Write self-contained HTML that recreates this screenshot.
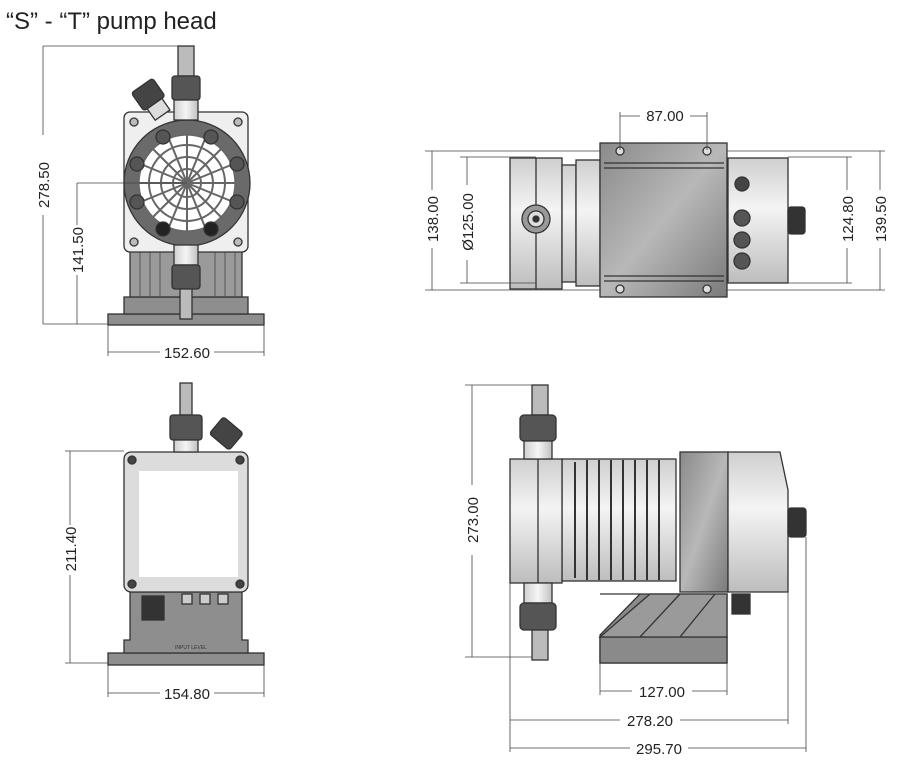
<!DOCTYPE html>
<html><head><meta charset="utf-8"><style>
html,body{margin:0;padding:0;background:#fff;}
svg{display:block;font-family:"Liberation Sans",sans-serif;}
.d{stroke:#444;stroke-width:0.8;fill:none}
.t{font-size:15px;fill:#222}
.o{stroke:#333;stroke-width:1.3}
</style></head><body>
<svg width="901" height="770" viewBox="0 0 901 770" xmlns="http://www.w3.org/2000/svg">
<defs>
<linearGradient id="gv" x1="0" y1="0" x2="0" y2="1"><stop offset="0" stop-color="#cfcfcf"/><stop offset="0.4" stop-color="#f4f4f4"/><stop offset="1" stop-color="#bdbdbd"/></linearGradient>
<linearGradient id="gh" x1="0" y1="0" x2="1" y2="0"><stop offset="0" stop-color="#d0d0d0"/><stop offset="0.5" stop-color="#f5f5f5"/><stop offset="1" stop-color="#c0c0c0"/></linearGradient>
<linearGradient id="gd" x1="0" y1="0" x2="1" y2="1"><stop offset="0" stop-color="#8a8a8a"/><stop offset="0.5" stop-color="#b8b8b8"/><stop offset="1" stop-color="#7a7a7a"/></linearGradient>
</defs>
<text x="6" y="29" style="font-size:24px;fill:#222">“S” - “T” pump head</text>

<!-- ===== View 1 (front) ===== -->
<g class="o">
<rect x="108" y="314" width="156" height="11" fill="#8e8e8e"/>
<rect x="124" y="297" width="124" height="17" fill="#8e8e8e"/>
<rect x="130" y="250" width="112" height="47" fill="#9a9a9a"/>
<g stroke="#555" stroke-width="1"><line x1="140" y1="252" x2="140" y2="297"/><line x1="150" y1="252" x2="150" y2="297"/><line x1="160" y1="252" x2="160" y2="297"/><line x1="215" y1="252" x2="215" y2="297"/><line x1="225" y1="252" x2="225" y2="297"/><line x1="235" y1="252" x2="235" y2="297"/></g>
<rect x="124" y="112" width="124" height="140" rx="6" fill="#efefef"/>
<circle cx="134" cy="122" r="4" fill="#bbb"/><circle cx="238" cy="122" r="4" fill="#bbb"/><circle cx="134" cy="242" r="4" fill="#bbb"/><circle cx="238" cy="242" r="4" fill="#bbb"/>
<circle cx="187" cy="183" r="63" fill="#6a6a6a"/>
<circle cx="187" cy="183" r="48" fill="#fff" stroke="#666"/>
<g stroke="#666" stroke-width="2" fill="none">
<circle cx="187" cy="183" r="38"/><circle cx="187" cy="183" r="26"/><circle cx="187" cy="183" r="14"/>
<path d="M187 135V231M139 183H235M153 149L221 217M221 149L153 217M169 139L205 227M205 139L169 227M143 165L231 201M231 165L143 201"/>
</g>
<g fill="#555"><circle cx="163" cy="137" r="7"/><circle cx="211" cy="137" r="7"/><circle cx="137" cy="164" r="7"/><circle cx="237" cy="164" r="7"/><circle cx="137" cy="202" r="7"/><circle cx="237" cy="202" r="7"/><circle cx="163" cy="229" r="7" fill="#222"/><circle cx="211" cy="229" r="7" fill="#222"/></g>
<rect x="178" y="46" width="16" height="30" fill="#bbb"/>
<rect x="172" y="76" width="28" height="24" rx="3" fill="#555"/>
<rect x="174" y="100" width="24" height="20" fill="url(#gh)"/>
<rect x="174" y="245" width="24" height="20" fill="url(#gh)"/>
<rect x="172" y="265" width="28" height="24" rx="3" fill="#555"/>
<rect x="180" y="289" width="12" height="30" fill="#bbb"/>
<g transform="rotate(-35 148 96)"><rect x="136" y="84" width="26" height="22" rx="3" fill="#444"/><rect x="140" y="106" width="18" height="14" fill="#ddd"/></g>
</g>

<!-- ===== View 2 (top) ===== -->
<g class="o">
<rect x="510" y="158" width="52" height="131" fill="url(#gv)"/>
<line x1="536" y1="158" x2="536" y2="289"/>
<circle cx="536" cy="219" r="14" fill="#999"/><circle cx="536" cy="219" r="8" fill="#ddd"/><circle cx="536" cy="219" r="3" fill="#333"/>
<rect x="562" y="165" width="14" height="117" fill="url(#gv)"/>
<rect x="576" y="160" width="24" height="126" fill="url(#gv)"/>
<rect x="600" y="143" width="127" height="154" fill="url(#gd)"/>
<line x1="604" y1="163" x2="724" y2="163"/><line x1="604" y1="168" x2="724" y2="168"/><line x1="604" y1="276" x2="724" y2="276"/><line x1="604" y1="281" x2="724" y2="281"/>
<g fill="#ddd"><circle cx="620" cy="151" r="4"/><circle cx="707" cy="151" r="4"/><circle cx="620" cy="289" r="4"/><circle cx="707" cy="289" r="4"/></g>
<rect x="728" y="158" width="60" height="125" fill="url(#gv)"/>
<circle cx="742" cy="184" r="7" fill="#444"/>
<circle cx="742" cy="218" r="8" fill="#555"/><circle cx="742" cy="240" r="8" fill="#555"/><circle cx="742" cy="261" r="8" fill="#555"/>
<rect x="788" y="207" width="17" height="27" rx="3" fill="#333"/>
</g>

<!-- ===== View 3 (back) ===== -->
<g class="o">
<rect x="108" y="653" width="156" height="12" fill="#8e8e8e"/>
<path d="M130 592H242V640H248V653H124V640H130Z" fill="#8e8e8e"/>
<rect x="142" y="596" width="22" height="24" fill="#333"/>
<rect x="182" y="594" width="10" height="10" fill="#ccc"/><rect x="200" y="594" width="10" height="10" fill="#ccc"/><rect x="218" y="594" width="10" height="10" fill="#ccc"/>
<text x="175" y="649" style="font-size:5px;fill:#333" stroke="none">INPUT LEVEL</text>
<rect x="124" y="452" width="124" height="140" rx="7" fill="#dcdcdc"/>
<rect x="139" y="471" width="99" height="106" fill="#fff" stroke="none"/>
<g fill="#444"><circle cx="132" cy="460" r="4"/><circle cx="240" cy="460" r="4"/><circle cx="132" cy="584" r="4"/><circle cx="240" cy="584" r="4"/></g>
<rect x="180" y="383" width="12" height="32" fill="#bbb"/>
<rect x="170" y="415" width="32" height="25" rx="3" fill="#555"/>
<rect x="174" y="440" width="24" height="12" fill="url(#gh)"/>
<g transform="rotate(40 225 435)"><rect x="212" y="422" width="26" height="22" rx="3" fill="#444"/></g>
</g>

<!-- ===== View 4 (side) ===== -->
<g class="o">
<path d="M600 594L650 594L727 594V663H600V635L640 594Z" fill="#8a8a8a"/>
<rect x="600" y="637" width="127" height="26" fill="#8a8a8a"/>
<path d="M600 637L650 594H727V637Z" fill="#9a9a9a"/>
<line x1="640" y1="637" x2="680" y2="594"/><line x1="680" y1="637" x2="715" y2="594"/>
<rect x="732" y="594" width="18" height="20" fill="#333"/>
<rect x="562" y="459" width="114" height="122" fill="url(#gv)"/>
<g stroke="#333" stroke-width="2"><line x1="575" y1="462" x2="575" y2="578"/><line x1="587" y1="460" x2="587" y2="580"/><line x1="599" y1="460" x2="599" y2="580"/><line x1="611" y1="460" x2="611" y2="580"/><line x1="623" y1="460" x2="623" y2="580"/><line x1="635" y1="460" x2="635" y2="580"/><line x1="647" y1="460" x2="647" y2="580"/><line x1="659" y1="460" x2="659" y2="580"/></g>
<rect x="510" y="459" width="52" height="124" fill="url(#gv)"/>
<line x1="538" y1="459" x2="538" y2="583"/>
<rect x="680" y="452" width="48" height="140" fill="url(#gd)"/>
<path d="M728 452H780L788 490V592H728Z" fill="url(#gv)"/>
<rect x="788" y="508" width="18" height="29" rx="3" fill="#333"/>
<rect x="532" y="385" width="16" height="30" fill="#bbb"/>
<rect x="520" y="415" width="36" height="26" rx="4" fill="#555"/>
<rect x="524" y="441" width="28" height="18" fill="url(#gh)"/>
<rect x="524" y="583" width="28" height="20" fill="url(#gh)"/>
<rect x="520" y="603" width="36" height="27" rx="4" fill="#555"/>
<rect x="532" y="630" width="16" height="30" fill="#bbb"/>
</g>

<!-- ===== Dimensions ===== -->
<g class="d">
<!-- v1 -->
<path d="M43 46H178M43 324H108M43 46V135M43 215V324"/>
<path d="M77 183H187M77 183V225M77 275V324"/>
<path d="M108 325V356M264 325V356M108 352H160M214 352H264"/>
<!-- v2 -->
<path d="M620 112V150M707 112V150M620 116H640M690 116H707"/>
<path d="M425 151H600M425 290H600M432 151V190M432 248V290"/>
<path d="M460 157H536M460 283H536M467 157V185M467 260V283"/>
<path d="M788 157H852M788 283H852M847 157V190M847 248V283"/>
<path d="M727 151H885M727 290H885M880 151V190M880 248V290"/>
<!-- v3 -->
<path d="M65 451H124M65 663H108M70 451V525M70 575V663"/>
<path d="M108 665V697M264 665V697M108 693H160M214 693H264"/>
<!-- v4 -->
<path d="M465 385H532M465 657H532M472 385V485M472 555V657"/>
<path d="M600 663V695M727 663V695M600 691H632M692 691H727"/>
<path d="M510 583V752M788 592V724M806 537V752"/>
<path d="M510 720H620M680 720H788M510 748H630M688 748H806"/>
</g>
<g class="t" text-anchor="middle">
<text transform="translate(49,185) rotate(-90)">278.50</text>
<text transform="translate(83,250) rotate(-90)">141.50</text>
<text x="187" y="358">152.60</text>
<text x="665" y="121">87.00</text>
<text transform="translate(438,219) rotate(-90)">138.00</text>
<text transform="translate(473,222) rotate(-90)">Ø125.00</text>
<text transform="translate(853,219) rotate(-90)">124.80</text>
<text transform="translate(886,219) rotate(-90)">139.50</text>
<text transform="translate(76,549) rotate(-90)">211.40</text>
<text x="187" y="699">154.80</text>
<text transform="translate(478,520) rotate(-90)">273.00</text>
<text x="662" y="697">127.00</text>
<text x="650" y="726">278.20</text>
<text x="659" y="754">295.70</text>
</g>
</svg>
</body></html>
